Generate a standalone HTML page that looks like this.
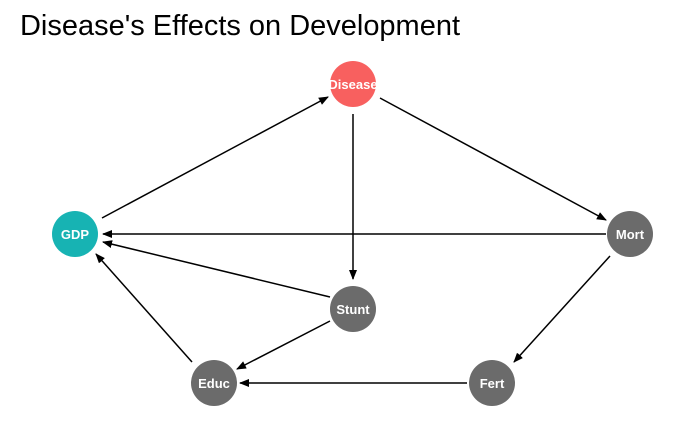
<!DOCTYPE html>
<html><head><style>
body{margin:0;background:#fff;width:700px;height:432px;overflow:hidden}
</style></head><body>
<svg width="700" height="432" xmlns="http://www.w3.org/2000/svg">
<defs><marker id="a" markerWidth="10" markerHeight="8" refX="9" refY="4" orient="auto" markerUnits="userSpaceOnUse"><path d="M0,0 L10,4 L0,8 z" fill="#000"/></marker></defs>
<text x="20" y="35" font-family="Liberation Sans, sans-serif" font-size="29" fill="#000" textLength="440" lengthAdjust="spacingAndGlyphs">Disease's Effects on Development</text>
<g stroke="#000" stroke-width="1.5" fill="none" marker-end="url(#a)">
<line x1="102" y1="218" x2="328" y2="97"/>
<line x1="380" y1="98" x2="606" y2="220"/>
<line x1="353" y1="114" x2="353" y2="279"/>
<line x1="606" y1="234" x2="103" y2="234"/>
<line x1="330" y1="297" x2="103" y2="242"/>
<line x1="330" y1="321" x2="237" y2="369"/>
<line x1="192" y1="362" x2="96" y2="254"/>
<line x1="610" y1="256" x2="514" y2="362"/>
<line x1="467" y1="383" x2="240" y2="383"/>
</g>
<g font-family="Liberation Sans, sans-serif" font-weight="bold" font-size="13" fill="#fff" text-anchor="middle">
<circle cx="353" cy="84" r="23" fill="#F8605F"/><text x="353" y="89">Disease</text>
<circle cx="75" cy="234" r="23" fill="#17B3B3"/><text x="75" y="239">GDP</text>
<circle cx="630" cy="234" r="23" fill="#6B6B6B"/><text x="630" y="239">Mort</text>
<circle cx="353" cy="309" r="23" fill="#6B6B6B"/><text x="353" y="314">Stunt</text>
<circle cx="214" cy="383" r="23" fill="#6B6B6B"/><text x="214" y="388">Educ</text>
<circle cx="492" cy="383" r="23" fill="#6B6B6B"/><text x="492" y="388">Fert</text>
</g>
</svg>
</body></html>
